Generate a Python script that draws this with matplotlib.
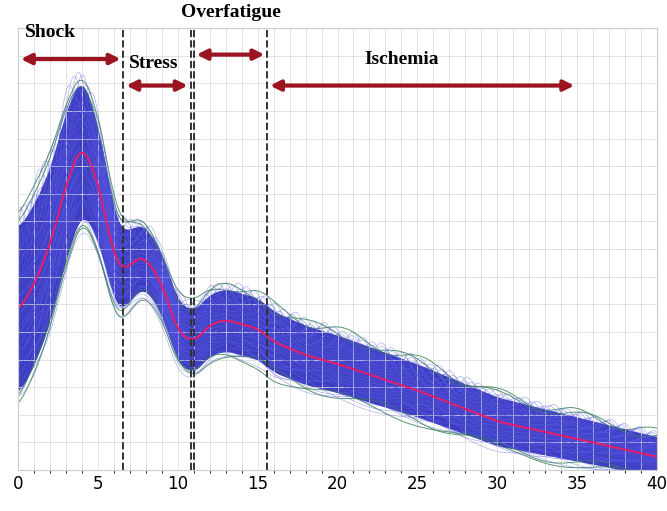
import numpy as np
import matplotlib.pyplot as plt

# mean curve (arbitrary y units 0-100)
x_key = [0, 1, 2, 3, 4, 5, 6, 6.5, 7.5, 8, 9, 10, 11, 12, 13, 15, 16, 18, 20, 25, 30, 35, 40]
mean_key = [36, 42, 51, 65, 74, 65, 48, 45, 48, 48, 42, 31, 29, 33, 34, 32, 29, 26, 24, 18, 11, 7, 3]
spread_x = [0, 4, 7, 10, 15, 25, 40]
spread_key = [19, 16, 7, 7, 7, 6, 4.5]
# curve offsets (in units of spread) for the ensemble lines
blue_offsets = list(np.linspace(-1.0, 1.0, 61))
green_offsets = [-1.15, -1.05, 1.05, 1.15]

phases = ['Shock', 'Stress', 'Overfatigue', 'Ischemia']
phase_x = [(0, 6.6), (6.6, 10.8), (11, 15.6), (15.6, 35)]
phase_y = [93, 87, 94, 87]
label_pos = [(2, 99), (8.5, 92), (13.3, 103.5), (24, 93)]
dashes = [6.6, 10.8, 11.0, 15.6]


def smooth(v, n=20):
    pad = np.pad(v, n, mode='edge')
    return np.convolve(pad, np.ones(n) / n, mode='same')[n:-n]


xs = np.linspace(0, 40, 800)
mean = smooth(np.interp(xs, x_key, mean_key))
spread = smooth(np.interp(xs, spread_x, spread_key), 60)

fig, ax = plt.subplots(figsize=(6.67, 5.11), dpi=100)
fig.subplots_adjust(left=0.027, right=0.985, top=0.945, bottom=0.08)
ax.fill_between(xs, mean - spread, mean + spread, color='#1a1ab4', alpha=0.85, lw=0)
for i, k in enumerate(green_offsets):
    ax.plot(xs, mean + k * spread + 1.2 * np.sin(xs * (0.7 + i * 0.2)), color='#2e7d4a', lw=0.7, alpha=0.8)
for j, k in enumerate(blue_offsets):
    wob = 0.3 * abs(k) * spread * np.sin(xs * (0.5 + 0.05 * j) + j)
    ax.plot(xs, mean + k * spread + wob, color='#5a5ae8', lw=0.4, alpha=0.6)
ax.plot(xs, mean, color='#e0206a', lw=1.5)

for d in dashes:
    ax.axvline(d, color='#333333', ls='--', lw=1.4)
for (a, b), y in zip(phase_x, phase_y):
    ax.annotate('', xy=(a, y), xytext=(b, y), annotation_clip=False,
                arrowprops=dict(arrowstyle='<|-|>', color='#9b1420', lw=3, mutation_scale=15))
for name, (px, py) in zip(phases, label_pos):
    ax.text(px, py, name, ha='center', va='center', fontsize=14, fontweight='bold',
            family='Liberation Serif', color='black')

ax.set_xlim(0, 40)
ax.set_ylim(0, 100)
ax.set_xticks(range(0, 41, 5))
ax.set_xticks(np.arange(0, 41, 1), minor=True)
ax.set_yticks(np.arange(0, 101, 6.25))
ax.set_yticklabels([])
ax.grid(True, which='both', color='#dddddd', lw=0.6)
ax.tick_params(axis='x', labelsize=12, length=0)
ax.tick_params(axis='y', length=0)
for s in ax.spines.values():
    s.set_color('#cccccc')
fig.savefig('out.png')
